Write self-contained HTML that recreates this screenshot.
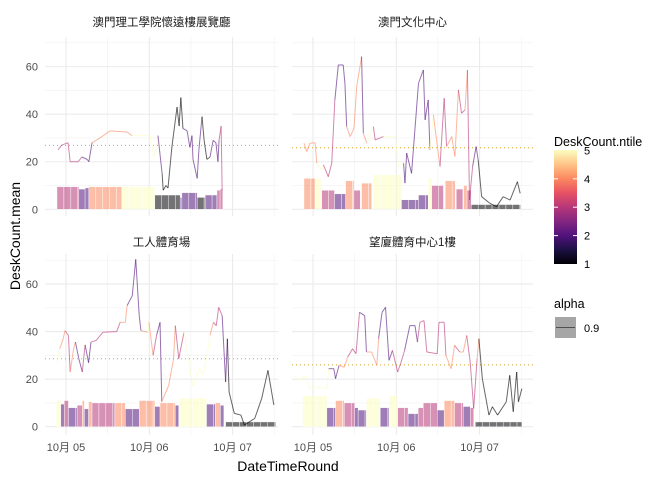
<!DOCTYPE html>
<html><head><meta charset="utf-8">
<style>
body{margin:0;background:#fff;}
svg{display:block;font-family:"Liberation Sans","Noto Sans CJK TC",sans-serif;}
</style></head>
<body>
<svg id="chart" width="672" height="480" viewBox="0 0 672 480">
</svg>
<script>
// ---- data (hours since 10月05 00:00), values, ntile ----
const panelTitles = ["澳門理工學院懷遠樓展覽廳","澳門文化中心","工人體育場","望廈體育中心1樓"];
const meanValues = [26.9, 25.9, 28.6, 26.0];
const yTicks = [0,20,40,60];
const xTickHours = [0,24,48];
const xTickLabels = ["10月 05","10月 06","10月 07"];
const ntileTicks = [1,2,3,4,5];

const lineHours1 = [-2.3,-1.2,0.6,1.2,3.5,4.6,6.1,6.6,7.5,9.8,12.7,17.6,19,24.2,25.4,26.2,26.5,27.7,28,28.8,29.4,30.5,32,32.6,33.1,33.7,34.9,35.7,36.3,36.6,37.8,38.3,39.2,39.8,40.6,41.5,42.4,43.2,43.8,44.1,44.7,45];
const lineVals1 = [25,27,28,20,20,22,21,20,28,30,33,32.5,31,31,22,28,31,15,8,10,9,26,43,35,47,34,33,26,31,21,13,25,39,29,21,22,29,28,20,29,35,8];
const lineTiles1 = [3,3,3,3,3,2,2,2,4,4,4,4,5,5,5,5,2,1,1,1,1,1,1,1,1,2,2,2,2,2,2,2,1,1,1,2,2,2,2,3,3,3];

const lineHours2 = [-2.6,-1.8,-0.9,0.6,1.1,2.5,3,4.4,5.4,6.3,7.3,8.7,9.2,9.7,10.7,11.8,12.6,14,14.5,15.5,17.4,17.9,20.3,23.7,24.6,26.1,26.5,27,28.4,30.4,31.8,32.3,33.2,33.7,34.7,35.6,36.6,37.8,38.5,40,40.9,41.9,42.8,43.8,44.5,45.1,46,47,47.6,48.6,51,52.9,54.8,56.8,58.9,59.7];
const lineVals2 = [27.8,24.3,27.8,28,19.4,16.5,18.7,13.7,19.4,46,60.7,60.7,53,34.8,30.6,34,51.6,64.2,32,27.8,34.8,29.2,30.6,30.6,18,19.4,11,23.6,15.1,53,58.6,37.6,46,25,39.7,29.2,18,46.7,26.4,30.6,22.2,50.2,40.4,41.8,58.6,3.9,18,26.4,20.8,5.3,2.5,1.1,5.3,3.9,11.6,6.7];
const lineTiles2 = [4,4,4,4,5,5,3,3,3,2,2,2,2,4,4,4,4,2,4,5,3,3,5,5,5,2,2,2,2,2,2,2,2,5,4,4,3,3,4,4,4,3,3,4,3,3,2,2,1,1,1,1,1,1,1,1];

const lineHours3 = [-2.5,-1.8,-0.8,-0.3,0.7,1.2,2.2,2.7,3.7,4.7,5.5,6.5,7.2,8.7,10.6,14.6,15.6,17.1,17.6,19.1,20.1,21.1,21.6,23.6,23.9,25.1,26.1,27.1,27.6,29.6,31,31.5,32.5,34,35.5,36.5,38.5,39.5,40.5,41.5,42.5,43.3,44,45,46,46.5,47,48.5,50.4,51.4,54.4,56.4,58.2,59.9];
const lineVals3 = [27,32.8,37,40.4,38.4,23,32.8,35.6,28.6,23,34.4,26.9,35.6,36.3,39.7,40,43.9,43.9,50.9,55.1,70.4,46.7,40.4,39.7,43.9,30,38.4,43.9,10.5,17.4,28.6,42.5,28.6,39.7,25.8,17.4,24.4,21.6,28.6,38.4,43.9,42.5,50.2,46.7,18.8,37,14.6,5.6,4.9,0.7,3.5,11.9,23.7,9.1];
const lineTiles3 = [5,4,4,3,3,4,4,2,2,3,2,2,3,3,3,3,4,4,2,2,2,2,4,5,4,3,2,2,4,4,4,3,3,5,5,5,5,5,5,4,3,3,3,2,2,1,1,1,1,1,1,1,1,1];

const lineHours4 = [-5.5,-4,-2,-1,2,4,4.5,6,6.5,7.5,9,10,11.4,12.4,13.4,14.9,15.4,16.9,18.4,18.9,19.9,20.9,21.9,22.9,24.4,25.4,26.4,27.9,29.4,30.1,30.8,32,32.8,35.8,36.3,37.8,38.3,39.8,40.8,42.3,43.3,44.3,45.3,46.3,47.3,47.8,48.8,50.7,51.7,53.2,55.7,56.7,57.7,58.7,59.2,60.2];
const lineVals4 = [21.6,19.5,21.6,16,16.7,16,24.4,24.4,20.2,25.8,25,29.3,32.8,30.7,48.1,46.7,31.4,31.4,25.8,37,48.1,50.2,27.9,32.1,23,27.2,32.1,42.5,42.5,35.6,43.9,44.6,31.4,30.7,43.9,43.9,30,24.4,34.2,31.4,31.4,38.4,27.2,7.7,28.6,37,20.2,4.9,8.4,4.9,10.5,21.6,6.3,23,10.5,16];
const lineTiles4 = [5,5,5,5,5,5,2,2,2,4,4,3,3,3,2,2,4,4,4,2,2,2,2,3,3,3,2,2,2,3,3,3,3,3,3,3,4,4,3,4,4,3,3,3,4,1,1,1,1,1,1,1,1,1,1,1];

const barStart1 = [-2.6,3.7,5.5,6.6,16.1,25.6,32.9,33.4,37.8,40.1,43.5,44.4];
const barEnd1   = [3.7,5.5,6.6,16.1,25.6,32.9,33.4,37.8,40.1,43.5,44.4,45.2];
const barVal1   = [9.5,8.5,9,9.5,9.5,6,5,7,5,6,8,8.5];
const barTile1  = [3,2,2,4,5,1,2,2,1,2,3,3];

const barStart2 = [-2.6,0.6,2.5,6.2,9.4,11.8,14,17.4,25.5,30.4,33.2,34.2,38.1,41.3,43.4,44.4,45.6];
const barEnd2   = [0.6,2.3,6.2,9.4,11.8,13.6,16.9,25.5,30.4,33.2,34.2,37.6,41,43.2,44.4,45.6,59.8];
const barVal2   = [13,13,8,6.5,12,8,11,14.5,4,6,13,10,12,8.5,10,8,2];
const barTile2  = [4,5,3,2,4,3,4,5,2,2,5,3,4,3,4,3,1];

const barStart3 = [-2.8,-1.5,-0.5,0.7,3.2,4.7,5.3,6.5,7.5,14.1,17.1,21.1,25.6,27.1,31.5,32.5,40.5,43,44.5,46];
const barEnd3   = [-1.5,-0.5,0.7,3.2,4.7,5.3,6.5,7.5,14.1,17.1,21.1,25.6,27.1,31.5,32.5,40.5,43,44.5,45.5,60.4];
const barVal3   = [11,9.5,11,8,9,11,7.5,10.5,10,10,7.5,11,8.5,10,9,12,9.5,10,9,2];
const barTile3  = [5,2,3,2,3,4,2,4,3,4,2,4,2,4,2,5,2,4,2,1];

const barStart4 = [-3,4,6.5,9,12,13,15.4,19.4,21.9,24.4,27.4,30.3,31.8,35.8,37.8,40.8,43.3,45.3,46.8];
const barEnd4   = [4,6.5,9,12,13,15.4,19.4,21.9,24.4,27.4,30.3,31.8,35.8,37.8,40.8,43.3,45.3,46.3,60.2];
const barVal4   = [13,8,11,10,8,7,12,8,13,8,5.5,8,10,7,11,10,8.5,8,2];
const barTile4  = [5,2,4,3,2,2,5,2,5,3,2,3,3,2,4,3,2,3,1];

const tileColors = {1:"#000004",2:"#51127c",3:"#b73779",4:"#fc8961",5:"#fcfdbf"};

const panels = [
  {x0:45,x1:278,y0:37,y1:216,zx:66,zy:209.3,lh:lineHours1,lv:lineVals1,lt:lineTiles1,bs:barStart1,be:barEnd1,bv:barVal1,bt:barTile1,yl:true,xl:false,ty:22},
  {x0:292,x1:533,y0:37,y1:216,zx:313,zy:209.3,lh:lineHours2,lv:lineVals2,lt:lineTiles2,bs:barStart2,be:barEnd2,bv:barVal2,bt:barTile2,yl:false,xl:false,ty:22},
  {x0:45,x1:278,y0:254,y1:435,zx:66,zy:426.7,lh:lineHours3,lv:lineVals3,lt:lineTiles3,bs:barStart3,be:barEnd3,bv:barVal3,bt:barTile3,yl:true,xl:true,ty:242},
  {x0:292,x1:533,y0:254,y1:435,zx:313,zy:426.7,lh:lineHours4,lv:lineVals4,lt:lineTiles4,bs:barStart4,be:barEnd4,bv:barVal4,bt:barTile4,yl:false,xl:true,ty:242}
];
const PXH = 3.47, PXV = 2.378;
const svg = document.getElementById('chart');
const NS = "http://www.w3.org/2000/svg";
function mk(tag, attrs, parent){const e=document.createElementNS(NS,tag);for(const k in attrs)e.setAttribute(k,attrs[k]);(parent||svg).appendChild(e);return e;}

panels.forEach((p,pi)=>{
  const sx = h => p.zx + h*PXH;
  const sy = v => p.zy - v*PXV;
  const g = mk('g',{});
  
  
  // grid
  for(let v=10; v<=70; v+=20){ if(sy(v)>p.y0){const l=mk('line',{x1:p.x0,x2:p.x1,y1:sy(v),y2:sy(v),stroke:'#f0f0f0','stroke-width':0.6},g);  }}
  for(let h=-12; h<=72; h+=24){ const x=sx(h); if(x>p.x0&&x<p.x1){const l=mk('line',{x1:x,x2:x,y1:p.y0,y2:p.y1,stroke:'#f0f0f0','stroke-width':0.6},g);  }}
  yTicks.forEach(v=>{const l=mk('line',{x1:p.x0,x2:p.x1,y1:sy(v),y2:sy(v),stroke:'#ebebeb','stroke-width':1.1},g);  });
  xTickHours.forEach(h=>{const l=mk('line',{x1:sx(h),x2:sx(h),y1:p.y0,y2:p.y1,stroke:'#ebebeb','stroke-width':1.1},g);  });
  // bars (split into 2h pieces)
  p.bs.forEach((s,i)=>{
    const e=p.be[i]; let t=s;
    while(t<e-0.05){
      const t2=Math.min(e,t+2);
      const r=mk('rect',{x:sx(t),y:sy(p.bv[i]),width:Math.max(0.5,(t2-t)*PXH),height:p.bv[i]*PXV,fill:tileColors[p.bt[i]],'fill-opacity':0.55,stroke:'#fff','stroke-width':0.4},g);
      
      
      t=t2;
    }
  });
  // mean line
  const ml=mk('line',{x1:p.x0,x2:p.x1,y1:sy(meanValues[pi]),y2:sy(meanValues[pi]),stroke:'#daa520','stroke-width':1,'stroke-dasharray':'1,3'},g);
  
  
  // line
  for(let i=0;i<p.lh.length-1;i++){
    const l=mk('line',{x1:sx(p.lh[i]),y1:sy(p.lv[i]),x2:sx(p.lh[i+1]),y2:sy(p.lv[i+1]),stroke:tileColors[p.lt[i]],'stroke-opacity':0.6,'stroke-width':1},g);
    
    
  }
  // strip title
  const tt=mk('text',{x:(p.x0+p.x1)/2,y:p.ty+4,'text-anchor':'middle','font-size':11.5,fill:'#1a1a1a'},g);
  tt.textContent=panelTitles[pi];
  
  
  if(p.yl) yTicks.forEach(v=>{const t=mk('text',{x:38,y:sy(v)+4,'text-anchor':'end','font-size':11,fill:'#4d4d4d'},g); t.textContent=v;  });
  if(p.xl) xTickHours.forEach((h,i)=>{const t=mk('text',{x:sx(h),y:451,'text-anchor':'middle','font-size':11,fill:'#4d4d4d'},g); t.textContent=xTickLabels[i];  });
});
// axis titles
let t=mk('text',{x:288,y:471,'text-anchor':'middle','font-size':14,fill:'#000'}); t.textContent='DateTimeRound';
 
t=mk('text',{x:20,y:236,'text-anchor':'middle','font-size':14,fill:'#000',transform:'rotate(-90 20 236)'}); t.textContent='DeskCount.mean';
 
// color legend
const defs=mk('defs',{});
const grad=mk('linearGradient',{id:'mg',x1:0,y1:1,x2:0,y2:0},defs);
[["0","#000004"],["0.125","#1c1044"],["0.25","#51127c"],["0.375","#832681"],["0.5","#b73779"],["0.625","#e75263"],["0.75","#fc8961"],["0.875","#fec488"],["1","#fcfdbf"]].forEach(s=>mk('stop',{offset:s[0],'stop-color':s[1]},grad));
const lg=mk('g',{});  
t=mk('text',{x:554,y:146,'font-size':12.5,fill:'#000'},lg); t.textContent='DeskCount.ntile';
 
const cb=mk('rect',{x:554,y:150,width:23,height:114,fill:'url(#mg)'},lg);
 
const cy = n => 264 - (n-1)*28.4;
ntileTicks.forEach(n=>{
  if(n>1&&n<5){mk('line',{x1:554,x2:558,y1:cy(n),y2:cy(n),stroke:'#fff','stroke-width':1},lg);mk('line',{x1:573,x2:577,y1:cy(n),y2:cy(n),stroke:'#fff','stroke-width':1},lg);}
  const l=mk('text',{x:584,y:cy(n)+4,'font-size':11,fill:'#000'},lg); l.textContent=n;
   
});
const ag=mk('g',{});  
t=mk('text',{x:554,y:308,'font-size':12.5,fill:'#000'},ag); t.textContent='alpha';
 
const kb=mk('rect',{x:555,y:317,width:21,height:21,fill:'#a6a6a6'},ag);
 
mk('line',{x1:556,x2:575,y1:327.5,y2:327.5,stroke:'#333','stroke-width':0.8},ag);
t=mk('text',{x:584,y:332,'font-size':11,fill:'#000'},ag); t.textContent='0.9';
 
</script>
</body></html>
